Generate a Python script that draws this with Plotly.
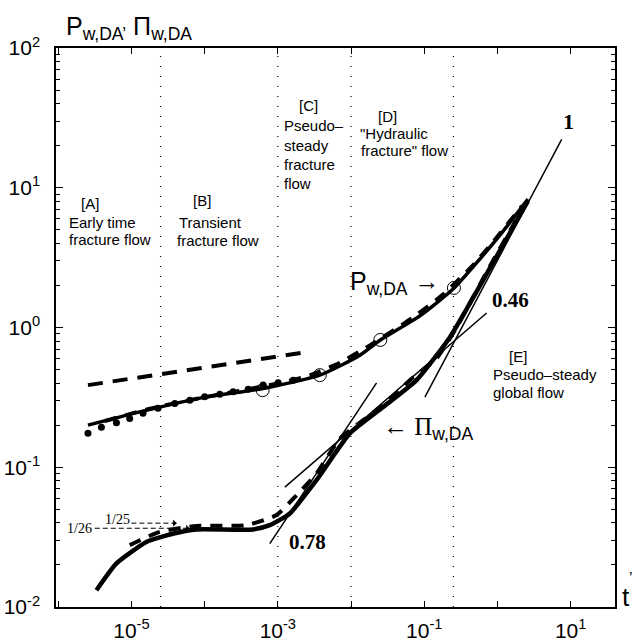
import math
import plotly.graph_objects as go

# ---------------- data ----------------
# P_w,DA : thick solid curve
p_x = [2.55e-6, 1.30e-5, 1.06e-4, 6.30e-4, 3.74e-3, 1.32e-2, 2.51e-2, 8.71e-2, 0.254, 0.575, 1.08, 2.61]
p_y = [0.200, 0.249, 0.319, 0.366, 0.456, 0.634, 0.813, 1.21, 1.91, 3.09, 4.58, 8.30]
# P_w,DA : thick dashed companion curve
pd_x = [4.31e-6, 1.78e-5, 8.57e-5, 3.02e-4, 1.17e-3, 2.73e-3, 7.03e-3, 0.0181, 0.070, 0.180, 0.462, 1.08, 2.16]
pd_y = [0.214, 0.262, 0.312, 0.352, 0.405, 0.455, 0.560, 0.745, 1.180, 1.720, 2.78, 4.70, 7.40]
# P_w,DA : filled dots (early times)
dot_x = [2.55e-6, 3.89e-6, 6.24e-6, 9.48e-6, 1.44e-5, 2.31e-5, 3.91e-5, 6.27e-5, 1.00e-4,
         1.61e-4, 2.45e-4, 3.93e-4, 6.30e-4, 1.01e-3, 1.62e-3]
dot_y = [0.175, 0.193, 0.208, 0.223, 0.243, 0.264, 0.286, 0.302, 0.319,
         0.333, 0.347, 0.361, 0.387, 0.402, 0.420]
# P_w,DA : open circles
circ_x = [6.2e-4, 3.74e-3, 0.0251, 0.254]
circ_y = [0.356, 0.456, 0.815, 1.92]
# early-time dashed asymptote
early_x = [2.55e-6, 2.47e-3]
early_y = [0.387, 0.667]

# Pi_w,DA : thick solid curve
pi_x = [3.33e-6, 6.24e-6, 1.60e-5, 3.91e-5, 7.73e-5, 4.59e-4, 7.76e-4, 1.46e-3, 3.37e-3,
        9.61e-3, 0.0275, 0.0785, 0.224, 0.789, 2.61]
pi_y = [0.01318, 0.0205, 0.0292, 0.0337, 0.0359, 0.0359, 0.0385, 0.0467, 0.0809,
        0.1746, 0.270, 0.420, 0.853, 2.66, 8.04]
# Pi_w,DA : thick dashed companion curve
pid_x = [9.48e-6, 2.44e-5, 7.73e-5, 3.73e-4, 9.6e-4, 1.80e-3, 3.37e-3, 7.03e-3, 0.0305,
         0.0635, 0.147, 0.262, 0.789, 2.52]
pid_y = [0.0277, 0.0345, 0.0380, 0.0385, 0.0455, 0.0630, 0.0900, 0.160, 0.290,
         0.420, 0.600, 0.957, 2.75, 8.00]

# straight slope lines (labelled 1, 0.46, 0.78)
slope1_x, slope1_y = [0.102, 7.53], [0.318, 22.2]
slope046_x, slope046_y = [1.247e-3, 0.711], [0.0720, 1.27]
slope078_x, slope078_y = [7.76e-4, 0.0223], [0.0284, 0.402]

# 1/26 and 1/25 pointer lines
ptr26_x, ptr26_y = [3.16e-6, 6.27e-5], [0.0366, 0.0366]
ptr25_x, ptr25_y = [1.0e-5, 4.16e-5], [0.0398, 0.0398]

# flow-regime boundaries
vlines_x = [2.5e-5, 1e-3, 1e-2, 0.25]

x_tickvals = [1e-6, 1e-5, 1e-4, 1e-3, 1e-2, 1e-1, 1e0, 1e1]
x_ticktext = ["", "10<sup>-5</sup>", "", "10<sup>-3</sup>", "", "10<sup>-1</sup>", "", "10<sup>1</sup>"]
y_tickvals = [1e-2, 1e-1, 1e0, 1e1, 1e2]
y_ticktext = ["10<sup>-2</sup>", "10<sup>-1</sup>", "10<sup>0</sup>", "10<sup>1</sup>", "10<sup>2</sup>"]
y_minor = [m * 10 ** e for e in (-2, -1, 0, 1) for m in range(2, 10)]

# ---------------- figure ----------------
SANS = "Liberation Sans, Arial, sans-serif"
SERIF = "Liberation Serif, Times New Roman, serif"
K = "black"

fig = go.Figure()

def line(x, y, width, dash="solid", shape="linear", smooth=None):
    ln = dict(color=K, width=width, dash=dash, shape=shape)
    if smooth is not None:
        ln["smoothing"] = smooth
    fig.add_trace(go.Scatter(x=x, y=y, mode="lines", line=ln, hoverinfo="skip", showlegend=False))

line(early_x, early_y, 4, dash="15px,10px")
for lx, ly in [(slope1_x, slope1_y), (slope046_x, slope046_y), (slope078_x, slope078_y)]:
    line(lx, ly, 1.5)
line(p_x, p_y, 3.5, shape="spline", smooth=0.6)
line(pd_x, pd_y, 4, dash="12px,9px", shape="spline", smooth=0.6)
line(pi_x, pi_y, 4.5, shape="spline", smooth=0.5)
line(pid_x, pid_y, 4, dash="12px,9px", shape="spline", smooth=0.5)
line(ptr26_x, ptr26_y, 1, dash="5px,3px")
line(ptr25_x, ptr25_y, 1, dash="5px,3px")

fig.add_trace(go.Scatter(x=dot_x, y=dot_y, mode="markers",
                         marker=dict(symbol="circle", size=7, color=K),
                         hoverinfo="skip", showlegend=False))
fig.add_trace(go.Scatter(x=circ_x, y=circ_y, mode="markers",
                         marker=dict(symbol="circle-open", size=13, color=K, line=dict(width=1)),
                         hoverinfo="skip", showlegend=False))

for vx in vlines_x:
    fig.add_shape(type="line", xref="x", yref="paper", x0=vx, x1=vx, y0=0, y1=1,
                  line=dict(color=K, width=1.2, dash="1px,9px"), layer="below")

# arrowheads of the 1/26, 1/25 pointers
for ax_, ay_ in [(ptr26_x[1], ptr26_y[1]), (ptr25_x[1], ptr25_y[1])]:
    fig.add_annotation(x=math.log10(ax_), y=math.log10(ay_),
                       xref="x", yref="y", text="", showarrow=True, ax=-6, ay=0,
                       arrowhead=1, arrowsize=1.2, arrowwidth=1, arrowcolor=K)

def px(xp):
    return (xp - 56) / 559.0

def py(yp):
    return (607 - yp) / 559.0

def txt(text, x, y, size=15, family=SANS, xanchor="left", bold=False):
    fig.add_annotation(text=("<b>%s</b>" % text) if bold else text,
                       x=px(x), y=py(y), xref="paper", yref="paper",
                       xanchor=xanchor, yanchor="middle", showarrow=False,
                       font=dict(size=size, family=family, color=K))

# regime labels
txt("[A]", 90, 203, xanchor="center")
txt("Early time", 67, 222)
txt("fracture flow", 67, 239)
txt("[B]", 202, 200, xanchor="center")
txt("Transient", 177, 222)
txt("fracture flow", 175, 240)
txt("[C]", 308, 105, xanchor="center")
txt("Pseudo\u2013", 282, 125)
txt("steady", 282, 145)
txt("fracture", 282, 164)
txt("flow", 282, 183)
txt("[D]", 387, 116, xanchor="center")
txt("\"Hydraulic", 358, 133)
txt("fracture\" flow", 359, 150)
txt("[E]", 518, 356, xanchor="center")
txt("Pseudo\u2013steady", 491, 375)
txt("global flow", 491, 393)

# curve labels
txt("P<sub>w,DA</sub> \u2192", 348, 283, size=25)
txt("\u2190 \u03a0<span style=\"font-family:Liberation Sans\"><sub>w,DA</sub></span>", 381, 428,
    size=25, family=SERIF)
txt("0.46", 490, 300, size=21, family=SERIF, bold=True)
txt("0.78", 287, 542, size=21, family=SERIF, bold=True)
txt("1", 561, 122, size=22, family=SERIF, bold=True)
txt("1/26", 94, 528, size=14, family=SERIF, xanchor="right")
txt("1/25", 132, 519, size=14, family=SERIF, xanchor="right")

# axis titles
txt("P<sub>w,DA\u2019</sub> \u03a0<sub>w,DA</sub>", 64, 28, size=25)
txt("t", 620, 597, size=26)
txt("\u2019", 627, 578, size=16)

axis_common = dict(type="log", showline=True, linecolor=K, linewidth=1.5, mirror="ticks",
                   ticks="inside", tickcolor=K, tickwidth=1, showgrid=False, zeroline=False,
                   automargin=False,
                   tickfont=dict(family=SANS, size=21, color=K), tickmode="array")

fig.update_layout(
    width=632, height=644, autosize=False,
    margin=dict(l=56, r=17, t=48, b=37, autoexpand=False),
    paper_bgcolor="white", plot_bgcolor="white",
    xaxis=dict(range=[-6.03, 1.605], tickvals=x_tickvals, ticktext=x_ticktext,
               ticklen=6, ticklabelstandoff=4, **axis_common),
    yaxis=dict(range=[-2, 2], tickvals=y_tickvals, ticktext=y_ticktext,
               ticklen=7, ticklabelstandoff=10,
               minor=dict(tickmode="array", tickvals=y_minor, ticks="inside", ticklen=4,
                          tickcolor=K, tickwidth=1, showgrid=False),
               **axis_common),
)

fig.write_html("out.html", config={"displayModeBar": False},
               post_script="document.body.style.margin='0';document.body.style.overflow='hidden';")
